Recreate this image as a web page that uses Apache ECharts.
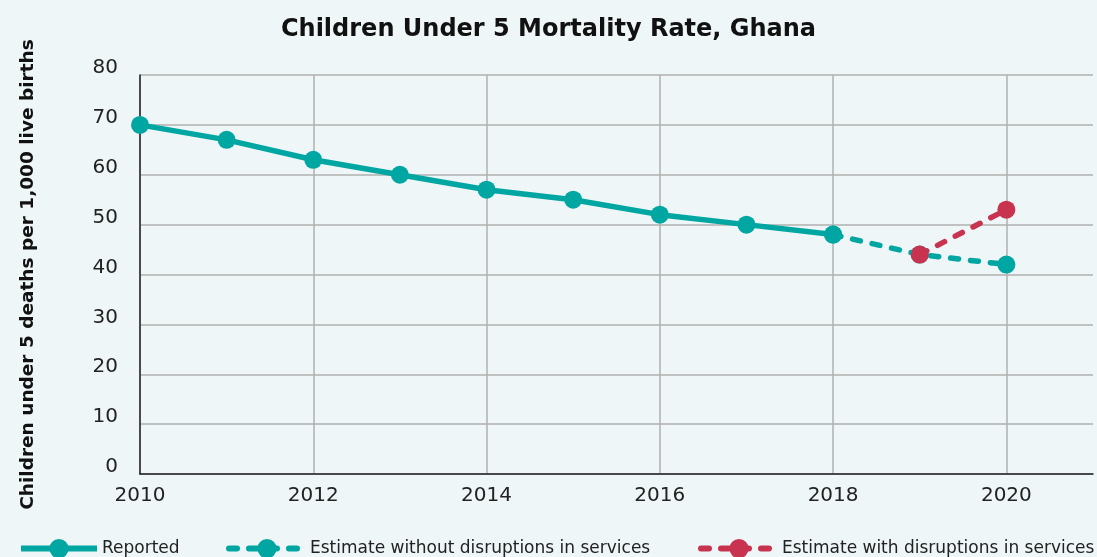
<!DOCTYPE html>
<html>
<head>
<meta charset="utf-8">
<script src="https://cdn.jsdelivr.net/npm/echarts@6/dist/echarts.min.js"></script>
<style>
html,body{margin:0;padding:0;background:#eef6f8;}
#c{width:1097px;height:557px;}
</style>
</head>
<body>
<div id="c"></div>
<script>
var years = ['2010','2011','2012','2013','2014','2015','2016','2017','2018','2019','2020','2021'];
var reported = [70, 67, 63, 60, 57, 55, 52, 50, 48, null, null, null];
var withoutDisruptions = [null, null, null, null, null, null, null, null, 48, 44, 42, null];
var withDisruptions = [null, null, null, null, null, null, null, null, null, 44, 53, null];
var seriesNames = ['Reported', 'Estimate without disruptions in services', 'Estimate with disruptions in services'];

var TEAL = '#00a6a1';
var RED = '#c8334f';
var FONT = 'DejaVu Sans';

function everyOther(idx){ return idx % 2 === 0 && idx <= 10; }

var chart = echarts.init(document.getElementById('c'), null, {renderer:'canvas'});
function legendAt(left, name){
  return {
    left: left, top: 534, data: [name],
    itemWidth: 76, itemHeight: 24, itemGap: 10,
    lineStyle: {width: 6},
    textStyle: {fontFamily: FONT, fontSize: 17, color: '#222'}
  };
}
chart.setOption({
  backgroundColor: '#eef6f8',
  animation: false,
  title: {
    text: 'Children Under 5 Mortality Rate, Ghana',
    left: 'center', top: 13,
    textStyle: {fontFamily: FONT, fontSize: 24, fontWeight: 'bold', color: '#111'}
  },
  legend: [legendAt(13, seriesNames[0]), legendAt(221, seriesNames[1]), legendAt(693, seriesNames[2])],
  grid: {left: 140, right: 4, top: 75, bottom: 83, containLabel: false},
  xAxis: {
    type: 'category', data: years, boundaryGap: false,
    axisLine: {lineStyle: {color: '#222', width: 1.5}},
    axisTick: {show: false},
    axisLabel: {interval: everyOther, fontFamily: FONT, fontSize: 20, color: '#222', margin: 12},
    splitLine: {show: true, interval: everyOther, lineStyle: {color: '#b0b0b0', width: 1.5}}
  },
  yAxis: {
    type: 'value', min: 0, max: 80, interval: 10,
    name: 'Children under 5 deaths per 1,000 live births',
    nameLocation: 'middle', nameGap: 102, nameRotate: 90,
    nameTextStyle: {fontFamily: FONT, fontSize: 18.5, fontWeight: 'bold', color: '#111'},
    axisLine: {show: true, lineStyle: {color: '#222', width: 1.5}},
    axisTick: {show: false},
    axisLabel: {fontFamily: FONT, fontSize: 20, color: '#222', margin: 22, verticalAlign: 'bottom', lineHeight: 14},
    splitLine: {lineStyle: {color: '#b0b0b0', width: 1.5}}
  },
  series: [
    {
      name: seriesNames[0], type: 'line', data: reported,
      symbol: 'circle', symbolSize: 18, connectNulls: false,
      lineStyle: {color: TEAL, width: 5.5},
      itemStyle: {color: TEAL}
    },
    {
      name: seriesNames[1], type: 'line', data: withoutDisruptions,
      symbol: 'circle', symbolSize: 18,
      lineStyle: {color: TEAL, width: 5.5, type: [8, 12], cap: 'round'},
      itemStyle: {color: TEAL}
    },
    {
      name: seriesNames[2], type: 'line', data: withDisruptions,
      symbol: 'circle', symbolSize: 18,
      lineStyle: {color: RED, width: 5.5, type: [8, 12], cap: 'round'},
      itemStyle: {color: RED}
    }
  ]
});
</script>
</body>
</html>
